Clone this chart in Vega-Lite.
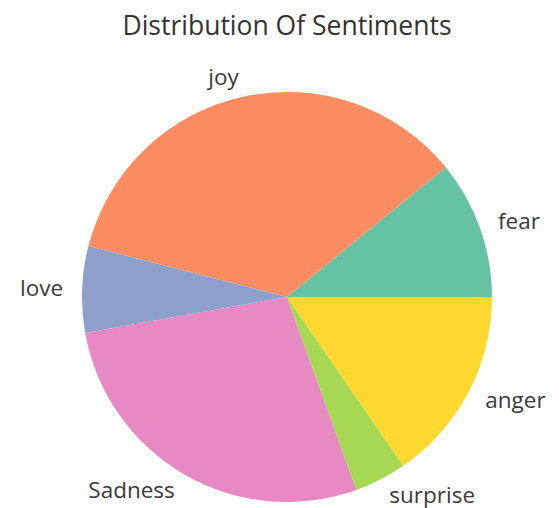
{
  "$schema": "https://vega.github.io/schema/vega-lite/v6.json",
  "width": 410,
  "height": 410,
  "autosize": "none",
  "padding": {"left": 82, "top": 92, "right": 67, "bottom": 6},
  "background": "white",
  "title": {"text": "Distribution Of Sentiments", "font": "Open Sans", "fontSize": 26.5, "fontWeight": "normal", "color": "#333333", "anchor": "middle", "frame": "group", "offset": 27},
  "data": {"values": [
    {"sentiment": "fear", "rank": 1, "share": 10.9},
    {"sentiment": "joy", "rank": 2, "share": 35.1},
    {"sentiment": "love", "rank": 3, "share": 6.8},
    {"sentiment": "Sadness", "rank": 4, "share": 27.7},
    {"sentiment": "surprise", "rank": 5, "share": 4.1},
    {"sentiment": "anger", "rank": 6, "share": 15.4}
  ]},
  "encoding": {
    "theta": {"field": "share", "type": "quantitative", "stack": true, "scale": {"range": [1.5708, -4.7124]}},
    "order": {"field": "rank", "type": "quantitative"}
  },
  "layer": [
    {"mark": {"type": "arc", "outerRadius": 205},
     "encoding": {"color": {"field": "sentiment", "type": "nominal", "legend": null,
        "scale": {"domain": ["fear", "joy", "love", "Sadness", "surprise", "anger"], "range": ["#66c2a5", "#fc8d62", "#8da0cb", "#e78ac3", "#a6d854", "#ffd92f"]}}}},
    {"mark": {"type": "text", "radius": 224, "align": "left", "baseline": "middle", "font": "Open Sans", "fontSize": 22.5, "color": "#3a3a3a"},
     "encoding": {"text": {"condition": {"test": "indexof(['fear','surprise','anger'], datum.sentiment) >= 0", "field": "sentiment"}, "value": ""}}},
    {"mark": {"type": "text", "radius": 224, "align": "right", "baseline": "middle", "font": "Open Sans", "fontSize": 22.5, "color": "#3a3a3a"},
     "encoding": {"text": {"condition": {"test": "indexof(['joy','love','Sadness'], datum.sentiment) >= 0", "field": "sentiment"}, "value": ""}}}
  ]
}
